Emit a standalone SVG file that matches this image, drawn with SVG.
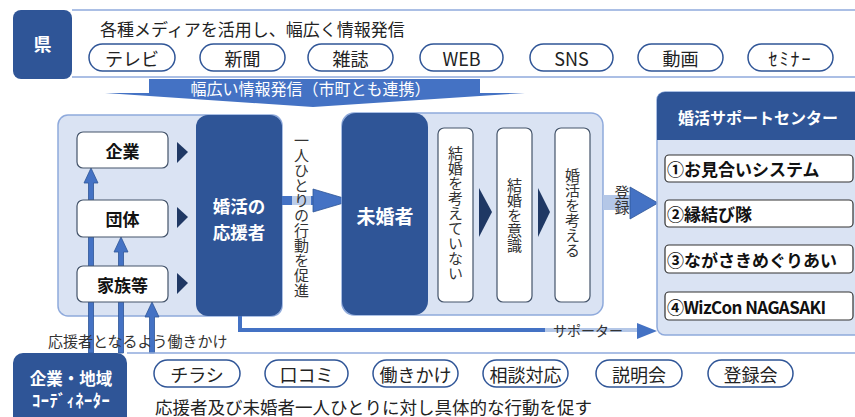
<svg xmlns="http://www.w3.org/2000/svg" width="855" height="417" viewBox="0 0 855 417">
<style>
text{font-family:"Noto Sans CJK JP","Noto Sans",sans-serif;dominant-baseline:central;}
.pill{fill:#fff;stroke:#2F5597;stroke-width:1.5;}
.pt{font-size:18px;fill:#222;text-anchor:middle;}
.dark{fill:#2F5597;}
.panel{fill:#DAE3F3;stroke:#8FAADC;stroke-width:1.5;}
.wbox{fill:#fff;stroke:#44546A;stroke-width:1.2;}
.lbl{font-size:17px;font-weight:bold;fill:#111;text-anchor:middle;}
.wt{fill:#fff;font-weight:bold;text-anchor:middle;}
.tri{fill:#1F3864;}
.arr{fill:#4472C4;stroke:#2F5597;stroke-width:0.8;}
.vt{writing-mode:vertical-rl;text-anchor:middle;font-size:15px;fill:#333;}
.band{stroke:#8FAADC;stroke-width:1.5;}
.item{fill:#fff;stroke:#333;stroke-width:1.2;}
.it{font-size:17px;font-weight:bold;fill:#111;}
</style>

<g id="pref-band">
<line class="band" x1="72" y1="10" x2="855" y2="10"/>
<line class="band" x1="72" y1="77" x2="855" y2="77"/>
<rect class="dark" x="13" y="10" width="59" height="69" rx="8"/>
<text class="wt" x="42.500" y="43" font-size="18">県</text>
<text x="100" y="28" font-size="17" fill="#222">各種メディアを活用し、幅広く情報発信</text>
</g>

<g id="media-pills">
<rect class="pill" x="89" y="44" width="86" height="27" rx="13.5"/><text class="pt" x="132" y="57.5">テレビ</text>
<rect class="pill" x="200" y="44" width="85" height="27" rx="13.5"/><text class="pt" x="242.500" y="57.5">新聞</text>
<rect class="pill" x="308" y="44" width="85" height="27" rx="13.5"/><text class="pt" x="350.500" y="57.5">雑誌</text>
<rect class="pill" x="420" y="44" width="83" height="27" rx="13.5"/><text class="pt" x="461.500" y="57.5">WEB</text>
<rect class="pill" x="530" y="44" width="83" height="27" rx="13.5"/><text class="pt" x="571.500" y="57.5">SNS</text>
<rect class="pill" x="638" y="44" width="85" height="27" rx="13.5"/><text class="pt" x="680.500" y="57.5">動画</text>
<rect class="pill" x="748" y="44" width="85" height="27" rx="13.5"/><text class="pt" x="790.500" y="57.5" letter-spacing="2">ｾﾐﾅｰ</text>
</g>

<g id="banner">
<polygon fill="#4472C4" points="149,79 480,79 480,93 525,93 313,107 105,93 149,93"/>
<text x="310.500" y="88" font-size="16" fill="#fff" text-anchor="middle">幅広い情報発信（市町とも連携）</text>
</g>

<g id="supporters-panel">
<rect class="panel" x="58" y="115" width="224" height="201" rx="10"/>
</g>

<g id="connectors">
<polygon class="arr" points="88.500,353 88.500,183 84,183 91,168 98,183 93.500,183 93.500,353"/>
<polygon class="arr" points="118.500,353 118.500,252 114,252 121,237 128,252 123.500,252 123.500,353"/>
<polygon class="arr" points="149.500,353 149.500,317 145,317 152,302 159,317 154.500,317 154.500,353"/>
<path d="M240 316 V330 H545" fill="none" stroke="#4472C4" stroke-width="4"/>
<line x1="545" y1="330" x2="640" y2="330" stroke="#B4C7E7" stroke-width="4"/>
<polygon fill="#4472C4" points="637,323 657,331 637,339"/>
<text x="588" y="330" font-size="14" fill="#333" text-anchor="middle">サポーター</text>
</g>

<g id="kigyo">
<rect class="wbox" x="77" y="132" width="91" height="36" rx="6"/>
<text class="lbl" x="122.500" y="150">企業</text>
<polygon class="tri" points="177,142 188,152 177,163"/>
</g>
<g id="dantai">
<rect class="wbox" x="77" y="200" width="91" height="37" rx="6"/>
<text class="lbl" x="122.500" y="218">団体</text>
<polygon class="tri" points="177,207 188,217 177,228"/>
</g>
<g id="kazoku">
<rect class="wbox" x="77" y="266" width="91" height="36" rx="6"/>
<text class="lbl" x="122.500" y="284">家族等</text>
<polygon class="tri" points="177,273 188,283 177,294"/>
</g>

<g id="ouensha">
<rect class="dark" x="196" y="115" width="86" height="201" rx="12"/>
<text class="wt" x="239" y="205" font-size="17.5">婚活の</text>
<text class="wt" x="239" y="231" font-size="17.5">応援者</text>
</g>

<g id="promote-arrow">
<rect x="282" y="196" width="34" height="9" fill="#4472C4"/>
<polygon class="arr" points="313,189 352,200.500 313,212"/>
<rect x="292" y="128" width="19" height="172" fill="#fff" fill-opacity="0.65"/>
<text class="vt" x="301.500" y="215">一人ひとりの行動を促進</text>
</g>

<g id="mikonsha-panel">
<rect class="panel" x="342" y="113" width="261" height="202" rx="12"/>
</g>
<g id="mikonsha">
<rect class="dark" x="342" y="113" width="86" height="202" rx="14"/>
<text class="wt" x="385" y="215" font-size="19">未婚者</text>
</g>
<g id="stage1">
<rect class="wbox" x="438" y="128" width="35" height="174" rx="6"/>
<text class="vt" x="455.500" y="213">結婚を考えていない</text>
</g>
<polygon class="tri" points="479,188 492,212 479,237"/>
<g id="stage2">
<rect class="wbox" x="497" y="128" width="35" height="174" rx="6"/>
<text class="vt" x="514.500" y="215">結婚を意識</text>
</g>
<polygon class="tri" points="538,188 550,212 538,237"/>
<g id="stage3">
<rect class="wbox" x="555" y="128" width="35" height="174" rx="6"/>
<text class="vt" x="572.500" y="213">婚活を考える</text>
</g>

<g id="register-arrow">
<rect x="603" y="195" width="29" height="15" fill="#B4C7E7"/>
<polygon class="arr" points="630,187 658,203 630,219"/>
<text class="vt" x="622" y="200" font-size="14">登録</text>
</g>

<g id="center">
<rect class="panel" x="657" y="92" width="210" height="243" rx="8"/>
<path class="dark" d="M657 140 V100 A8 8 0 0 1 665 92 H867 V140 Z"/>
<text class="wt" x="758" y="117" font-size="16">婚活サポートセンター</text>
<rect class="item" x="665" y="155" width="188" height="27" rx="4"/><text class="it" x="667" y="168.500">①お見合いシステム</text>
<rect class="item" x="665" y="200" width="188" height="27" rx="4"/><text class="it" x="667" y="213.500">②縁結び隊</text>
<rect class="item" x="665" y="245" width="188" height="28" rx="4"/><text class="it" x="667" y="259">③ながさきめぐりあい</text>
<rect class="item" x="665" y="292" width="188" height="28" rx="4"/><text class="it" x="667" y="306" letter-spacing="-0.6">④WizCon NAGASAKI</text>
</g>

<g id="coordinator-band">
<line class="band" x1="127" y1="353" x2="855" y2="353"/>
<path class="dark" d="M13 417 V363 A10 10 0 0 1 23 353 H117 A10 10 0 0 1 127 363 V417 Z"/>
<text class="wt" x="71" y="378" font-size="16.5">企業・地域</text>
<text class="wt" x="71" y="400" font-size="16.5" letter-spacing="0.5">ｺｰﾃﾞｨﾈｰﾀｰ</text>
<text x="48" y="340" font-size="15" fill="#333">応援者となるよう働きかけ</text>
<text x="155" y="406" font-size="17.5" fill="#222">応援者及び未婚者一人ひとりに対し具体的な行動を促す</text>
</g>

<g id="tool-pills">
<rect class="pill" x="154" y="360" width="86" height="27" rx="13.5"/><text class="pt" x="197" y="373.500">チラシ</text>
<rect class="pill" x="265" y="360" width="83" height="27" rx="13.5"/><text class="pt" x="306.500" y="373.500">口コミ</text>
<rect class="pill" x="373" y="360" width="85" height="27" rx="13.5"/><text class="pt" x="415.500" y="373.500">働きかけ</text>
<rect class="pill" x="483" y="360" width="85" height="27" rx="13.5"/><text class="pt" x="525.500" y="373.500">相談対応</text>
<rect class="pill" x="596" y="360" width="86" height="27" rx="13.5"/><text class="pt" x="639" y="373.500">説明会</text>
<rect class="pill" x="708" y="360" width="85" height="27" rx="13.5"/><text class="pt" x="750.500" y="373.500">登録会</text>
</g>
</svg>
